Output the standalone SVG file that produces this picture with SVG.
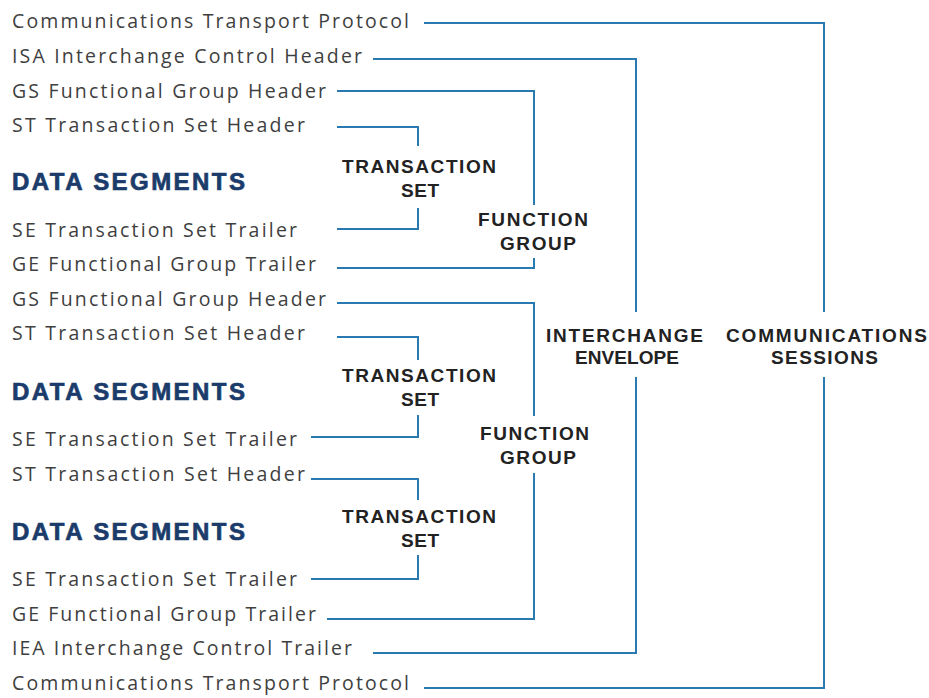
<svg xmlns="http://www.w3.org/2000/svg" width="929" height="698" viewBox="0 0 929 698">
  <style>
    .seg { font-family: "Open Sans", "Liberation Sans", Arial, sans-serif; font-size: 19.5px; fill: #3f3f3f; }
    .data { font-family: "Liberation Sans", Arial, sans-serif; font-size: 24px; font-weight: bold; fill: #1b3c6b; stroke: #1b3c6b; stroke-width: 0.7; }
    .lvl { font-family: "Liberation Sans", Arial, sans-serif; font-size: 19px; font-weight: bold; fill: #222; }
    .br { fill: none; stroke: #2a7ab2; stroke-width: 2; }
  </style>
  <rect width="929" height="698" fill="#fff"/>

  <!-- segment labels, top to bottom -->
  <g id="ctp-top"><text class="seg" x="12" y="28" textLength="397" lengthAdjust="spacing">Communications Transport Protocol</text></g>
  <g id="isa"><text class="seg" x="12" y="63" textLength="350" lengthAdjust="spacing">ISA Interchange Control Header</text></g>
  <g id="gs-1"><text class="seg" x="12" y="98" textLength="314" lengthAdjust="spacing">GS Functional Group Header</text></g>
  <g id="st-1"><text class="seg" x="12" y="132" textLength="293" lengthAdjust="spacing">ST Transaction Set Header</text></g>
  <g id="data-1"><text class="data" x="12" y="190" textLength="233" lengthAdjust="spacing">DATA SEGMENTS</text></g>
  <g id="se-1"><text class="seg" x="12" y="237" textLength="285" lengthAdjust="spacing">SE Transaction Set Trailer</text></g>
  <g id="ge-1"><text class="seg" x="12" y="271" textLength="304" lengthAdjust="spacing">GE Functional Group Trailer</text></g>
  <g id="gs-2"><text class="seg" x="12" y="306" textLength="314" lengthAdjust="spacing">GS Functional Group Header</text></g>
  <g id="st-2"><text class="seg" x="12" y="340" textLength="293" lengthAdjust="spacing">ST Transaction Set Header</text></g>
  <g id="data-2"><text class="data" x="12" y="400" textLength="233" lengthAdjust="spacing">DATA SEGMENTS</text></g>
  <g id="se-2"><text class="seg" x="12" y="446" textLength="285" lengthAdjust="spacing">SE Transaction Set Trailer</text></g>
  <g id="st-3"><text class="seg" x="12" y="481" textLength="293" lengthAdjust="spacing">ST Transaction Set Header</text></g>
  <g id="data-3"><text class="data" x="12" y="540" textLength="233" lengthAdjust="spacing">DATA SEGMENTS</text></g>
  <g id="se-3"><text class="seg" x="12" y="586" textLength="285" lengthAdjust="spacing">SE Transaction Set Trailer</text></g>
  <g id="ge-2"><text class="seg" x="12" y="621" textLength="304" lengthAdjust="spacing">GE Functional Group Trailer</text></g>
  <g id="iea"><text class="seg" x="12" y="655" textLength="340" lengthAdjust="spacing">IEA Interchange Control Trailer</text></g>
  <g id="ctp-bottom"><text class="seg" x="12" y="690" textLength="397" lengthAdjust="spacing">Communications Transport Protocol</text></g>

  <!-- nesting level labels -->
  <g id="ts-1">
    <text class="lvl" x="342" y="173" textLength="154" lengthAdjust="spacing">TRANSACTION</text>
    <text class="lvl" x="401" y="197" textLength="38" lengthAdjust="spacing">SET</text>
  </g>
  <g id="fg-1">
    <text class="lvl" x="478" y="226" textLength="110" lengthAdjust="spacing">FUNCTION</text>
    <text class="lvl" x="500" y="250" textLength="76" lengthAdjust="spacing">GROUP</text>
  </g>
  <g id="ts-2">
    <text class="lvl" x="342" y="382" textLength="154" lengthAdjust="spacing">TRANSACTION</text>
    <text class="lvl" x="401" y="406" textLength="38" lengthAdjust="spacing">SET</text>
  </g>
  <g id="fg-2">
    <text class="lvl" x="480" y="440" textLength="109" lengthAdjust="spacing">FUNCTION</text>
    <text class="lvl" x="500" y="464" textLength="76" lengthAdjust="spacing">GROUP</text>
  </g>
  <g id="ts-3">
    <text class="lvl" x="342" y="523" textLength="154" lengthAdjust="spacing">TRANSACTION</text>
    <text class="lvl" x="401" y="547" textLength="38" lengthAdjust="spacing">SET</text>
  </g>
  <g id="envelope">
    <text class="lvl" x="546" y="342" textLength="157" lengthAdjust="spacing">INTERCHANGE</text>
    <text class="lvl" x="575" y="364" textLength="104" lengthAdjust="spacing">ENVELOPE</text>
  </g>
  <g id="sessions">
    <text class="lvl" x="726" y="342" textLength="201" lengthAdjust="spacing">COMMUNICATIONS</text>
    <text class="lvl" x="771" y="364" textLength="107" lengthAdjust="spacing">SESSIONS</text>
  </g>

  <!-- bracket connectors -->
  <g id="connectors">
    <path class="br" d="M424 23 H824 V312 M824 377 V688 H424"/>
    <path class="br" d="M373 59 H636 V312 M636 377 V653 H373"/>
    <path class="br" d="M337 91 H534 V205 M534 258 V268 H337"/>
    <path class="br" d="M337 127 H418 V146 M418 208 V229 H337"/>
    <path class="br" d="M337 303 H534 V416 M534 473 V619 H327"/>
    <path class="br" d="M337 337 H418 V360 M418 415 V437 H311"/>
    <path class="br" d="M311 479 H418 V500 M418 555 V579 H311"/>
  </g>
</svg>
